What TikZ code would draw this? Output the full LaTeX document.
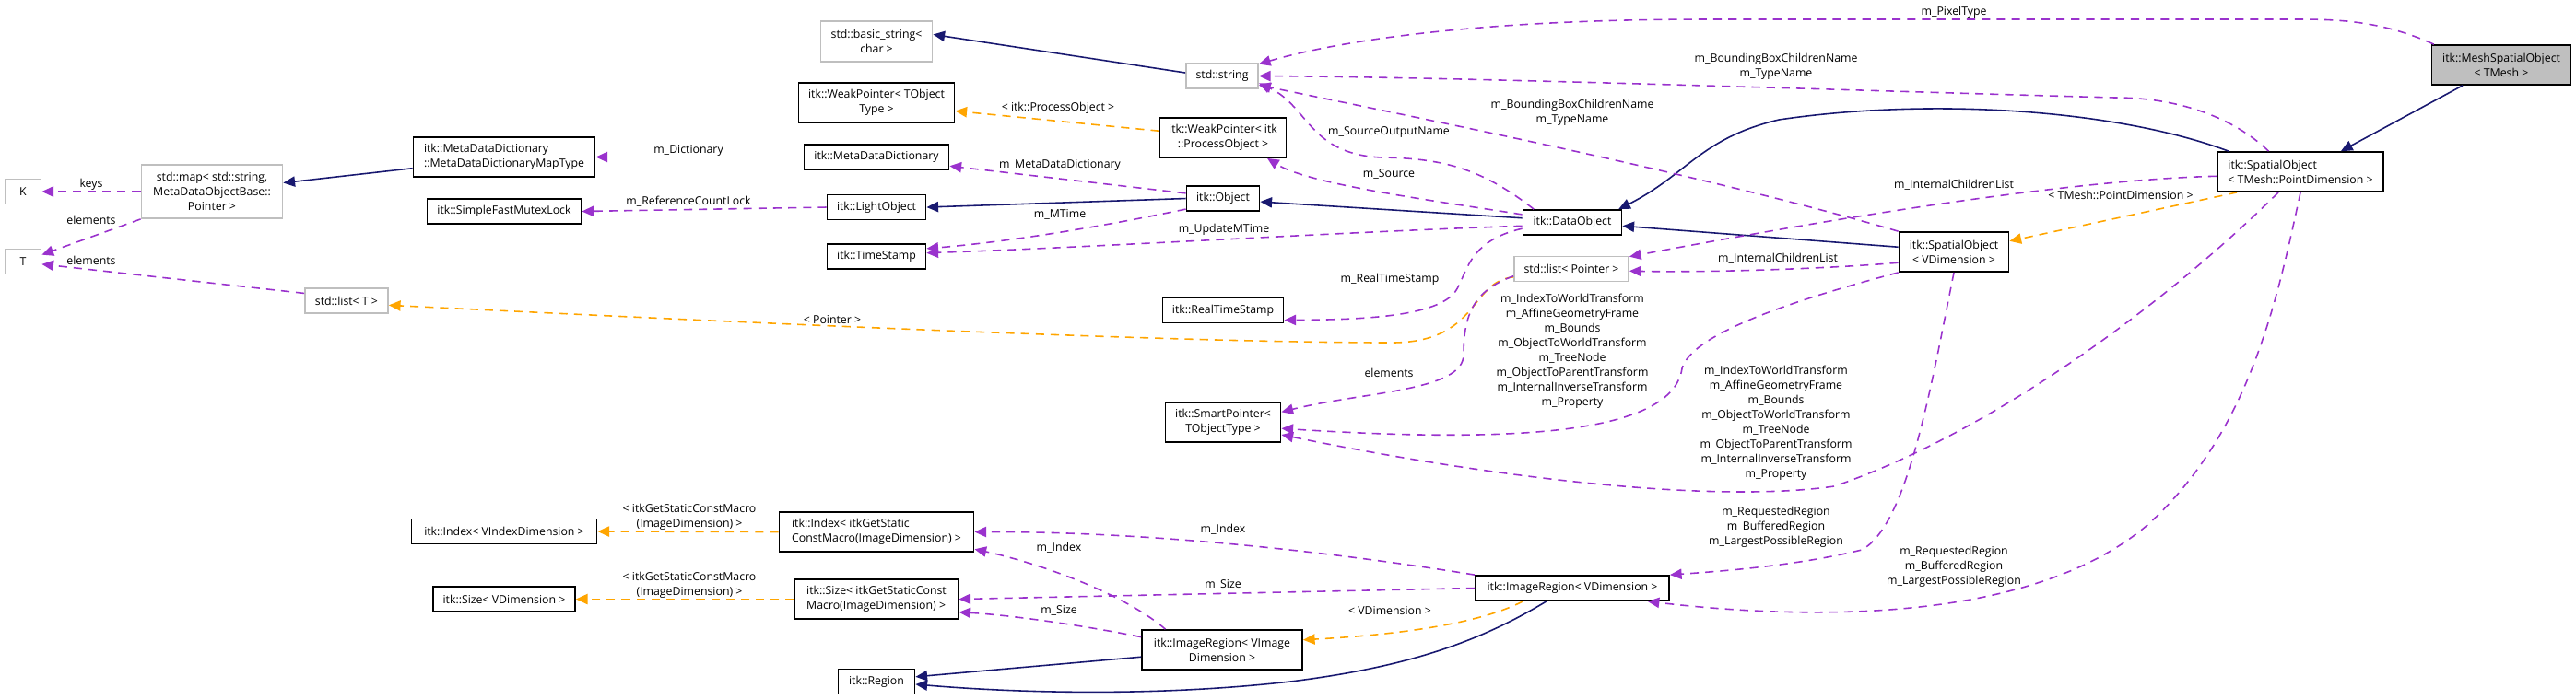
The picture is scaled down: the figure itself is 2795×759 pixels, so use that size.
\documentclass[tikz,border=0pt]{standalone}
\usepackage{fontspec}
\setmainfont{Open Sans}
\usetikzlibrary{arrows.meta}
\definecolor{doxnavy}{RGB}{25,25,112}
\definecolor{doxpurple}{RGB}{154,50,205}
\definecolor{doxorange}{RGB}{255,165,0}
\definecolor{doxgrey}{RGB}{191,191,191}

\begin{document}
\begin{tikzpicture}[x=0.01cm,y=-0.01cm,
  font=\fontsize{3.5pt}{4.55pt}\selectfont,
  cls/.style={draw=black,line width=0.5pt,fill=white,inner sep=0pt,minimum height=0.27cm,align=center},
  ext/.style={cls,draw=doxgrey},
  lbl/.style={inner sep=0pt,align=center},
  inherit/.style={doxnavy,line width=0.45pt,-{Triangle[length=3.6pt,width=3.2pt]}},
  usage/.style={doxpurple,line width=0.45pt,dash pattern=on 2.6pt off 2pt,-{Triangle[length=3.6pt,width=3.2pt]}},
  templ/.style={usage,doxorange}]
  \useasboundingbox (0,0) rectangle (2795,759);

  % classes
  \node[ext,minimum width=0.39cm] (K) at (25,208) {K};
  \node[ext,minimum width=0.39cm] (T) at (25,284) {T};
  \node[ext,minimum width=1.53cm,minimum height=0.58cm] (map) at (230,208) {std::map< std::string,\\MetaDataObjectBase::\\Pointer >};
  \node[ext,minimum width=0.90cm] (listT) at (376,326.5) {std::list< T >};
  \node[ext,minimum width=1.21cm,minimum height=0.44cm] (basicstr) at (951,45) {std::basic\_string<\\char >};
  \node[ext,minimum width=0.78cm] (stdstring) at (1326,82.5) {std::string};
  \node[ext,minimum width=1.24cm] (listptr) at (1705,292) {std::list< Pointer >};
  \node[cls,minimum width=1.97cm,minimum height=0.43cm,align=left] (maptype) at (547,170.5) {itk::MetaDataDictionary\\::MetaDataDictionaryMapType};
  \foreach \nm/\txt/\cx/\cy/\w in {
    mutex/itk::SimpleFastMutexLock/547/229.5/1.67cm,
    mdd/itk::MetaDataDictionary/951/170.5/1.57cm,
    light/itk::LightObject/951/225/1.07cm,
    stamp/itk::TimeStamp/951/278.5/1.07cm,
    object/itk::Object/1327/215.5/0.79cm,
    realstamp/itk::RealTimeStamp/1327/337/1.31cm,
    dataobj/itk::DataObject/1706/241.5/1.07cm,
    indexv/itk::Index< VIndexDimension >/547/577/2.01cm,
    sizev/itk::Size< VDimension >/547/650.5/1.54cm,
    region/itk::Region/951/740/0.83cm,
    regionv/itk::ImageRegion< VDimension >/1706/638.5/2.10cm}{
    \node[cls,minimum width=\w] (\nm) at (\cx,\cy) {\txt};
  }
  \node[cls,minimum width=1.69cm,minimum height=0.43cm] (weakt) at (951,111.5) {itk::WeakPointer< TObject\\Type >};
  \node[cls,minimum width=1.37cm,minimum height=0.43cm] (weakpo) at (1327,149.5) {itk::WeakPointer< itk\\::ProcessObject >};
  \node[cls,minimum width=1.25cm,minimum height=0.43cm] (smartptr) at (1327,458.5) {itk::SmartPointer<\\TObjectType >};
  \node[cls,minimum width=1.19cm,minimum height=0.43cm] (spvdim) at (2120,273.5) {itk::SpatialObject\\< VDimension >};
  \node[cls,minimum width=1.80cm,minimum height=0.43cm,align=left] (sptmesh) at (2496,186.5) {itk::SpatialObject\\< TMesh::PointDimension >};
  \node[cls,fill=doxgrey,minimum width=1.51cm,minimum height=0.43cm] (mesh) at (2714,70.5) {itk::MeshSpatialObject\\< TMesh >};
  \node[cls,minimum width=2.11cm,minimum height=0.43cm,align=left] (indexi) at (951,577.5) {itk::Index< itkGetStatic\\ConstMacro(ImageDimension) >};
  \node[cls,minimum width=1.77cm,minimum height=0.43cm,align=left] (sizei) at (951,650.5) {itk::Size< itkGetStaticConst\\Macro(ImageDimension) >};
  \node[cls,minimum width=1.74cm,minimum height=0.43cm] (regioni) at (1326,705.5) {itk::ImageRegion< VImage\\Dimension >};

  % inheritance
  \draw[inherit] (maptype.187) -- (map.7);
  \draw[inherit] (stdstring.175) -- (basicstr.7);
  \draw[inherit] (object.west) -- (light.east);
  \draw[inherit] (dataobj.175) -- (object.-5);
  \draw[inherit] (spvdim.175) -- (dataobj.-4);
  \draw[inherit] (sptmesh.164) .. controls (2300,120) and (2100,105) .. (1930,130) .. controls (1845,150) and (1830,190) .. (dataobj.16);
  \draw[inherit] (mesh.208) -- (sptmesh.27);
  \draw[inherit] (regioni.185) -- (region.7);
  \draw[inherit] (regionv.207) .. controls (1600,700) and (1520,725) .. (1400,740) .. controls (1250,757) and (1100,752) .. (region.-4);

  % template arguments
  \draw[templ] (listptr.188) .. controls (1595,305) and (1605,372) .. (1510,372) .. controls (1250,372) and (700,345) .. (listT.-6);
  \draw[templ] (weakpo.174) -- (weakt.-6);
  \draw[templ] (sptmesh.198) -- (spvdim.11);
  \draw[templ] (regionv.195) .. controls (1600,680) and (1500,690) .. (regioni.7);
  \draw[templ] (indexi.west) -- (indexv.east);
  \draw[templ] (sizei.west) -- (sizev.east);

  % members
  \draw[usage] (map.west) -- (K.east);
  \draw[usage] (map.south west) -- (T.20);
  \draw[usage] (listT.170) -- (T.-8);
  \draw[usage] (mdd.west) -- (maptype.east);
  \draw[usage] (light.west) -- (mutex.east);
  \draw[usage] (object.172) -- (mdd.-7);
  \draw[usage] (object.196) .. controls (1200,245) and (1100,262) .. (stamp.9);
  \draw[usage] (dataobj.184) .. controls (1450,252) and (1200,268) .. (stamp.4);
  \draw[usage] (dataobj.171) .. controls (1550,217) and (1420,200) .. (weakpo.-25);
  \draw[usage] (dataobj.161) .. controls (1610,185) and (1570,172) .. (1500,171) .. controls (1420,168) and (1420,115) .. (stdstring.-11);
  \draw[usage] (spvdim.north west) .. controls (1850,190) and (1550,130) .. (stdstring.-14);
  \draw[usage] (sptmesh.147) .. controls (2420,125) and (2360,106) .. (2295,106) .. controls (2000,98) and (1600,84) .. (stdstring.east);
  \draw[usage] (mesh.163) .. controls (2590,25) and (2545,21) .. (2498,21) -- (1850,21) .. controls (1600,21) and (1450,45) .. (stdstring.18);
  \draw[usage] (sptmesh.183) .. controls (2250,195) and (2000,235) .. (listptr.12);
  \draw[usage] (spvdim.191) .. controls (1980,292) and (1850,296) .. (listptr.-2);
  \draw[usage] (dataobj.187) .. controls (1590,262) and (1592,300) .. (1578,318) .. controls (1555,345) and (1470,347) .. (realstamp.-9);
  \draw[usage] (listptr.187) .. controls (1600,315) and (1588,340) .. (1588,385) .. controls (1588,425) and (1480,425) .. (smartptr.10);
  \draw[usage] (spvdim.south west) .. controls (1930,330) and (1835,365) .. (1825,400) .. controls (1815,470) and (1650,482) .. (smartptr.-6);
  \draw[usage] (sptmesh.223) .. controls (2350,330) and (2160,470) .. (1990,528) .. controls (1850,548) and (1600,515) .. (smartptr.-12);
  \draw[usage] (regionv.north west) .. controls (1450,600) and (1250,577) .. (indexi.east);
  \draw[usage] (regioni.160) .. controls (1220,645) and (1130,612) .. (indexi.-10);
  \draw[usage] (regionv.west) -- (sizei.east);
  \draw[usage] (regioni.171) .. controls (1180,680) and (1100,668) .. (sizei.-9);
  \draw[usage] (spvdim.south) .. controls (2095,420) and (2070,570) .. (2020,597) .. controls (1950,614) and (1870,620) .. (regionv.north east);
  \draw[usage] (sptmesh.south) .. controls (2470,330) and (2440,470) .. (2330,570) .. controls (2200,680) and (1950,672) .. (regionv.-10);

  % edge labels
  \node[lbl] (lkeys) at (99,200) {keys};
  \node[lbl] (lelem1) at (99,239) {elements};
  \node[lbl] (lelem2) at (99,283) {elements};
  \node[lbl] (ldict) at (747,163) {m\_Dictionary};
  \node[lbl] (lrefcnt) at (747,219) {m\_ReferenceCountLock};
  \node[lbl] (lptr) at (903,347) {< Pointer >};
  \node[lbl] (lproc) at (1148,117) {< itk::ProcessObject >};
  \node[lbl] (lmdd) at (1150,179) {m\_MetaDataDictionary};
  \node[lbl] (lmtime) at (1150,233) {m\_MTime};
  \node[lbl] (lupd) at (1328,249) {m\_UpdateMTime};
  \node[lbl] (lsrc) at (1507,189) {m\_Source};
  \node[lbl] (lsrcname) at (1507,143) {m\_SourceOutputName};
  \node[lbl] (lbbox1) at (1706,122.5) {m\_BoundingBoxChildrenName\\m\_TypeName};
  \node[lbl] (lbbox2) at (1927,72.5) {m\_BoundingBoxChildrenName\\m\_TypeName};
  \node[lbl] (lpix) at (2120,13) {m\_PixelType};
  \node[lbl] (lpointdim) at (2301,212) {< TMesh::PointDimension >};
  \node[lbl] (lchild1) at (2120,201) {m\_InternalChildrenList};
  \node[lbl] (lchild2) at (1929,281) {m\_InternalChildrenList};
  \node[lbl] (lreal) at (1508,303) {m\_RealTimeStamp};
  \node[lbl] (lelem3) at (1507,405) {elements};
  \node[lbl] (ltrans1) at (1706,381) {m\_IndexToWorldTransform\\m\_AffineGeometryFrame\\m\_Bounds\\m\_ObjectToWorldTransform\\m\_TreeNode\\m\_ObjectToParentTransform\\m\_InternalInverseTransform\\m\_Property};
  \node[lbl] (ltrans2) at (1927,459) {m\_IndexToWorldTransform\\m\_AffineGeometryFrame\\m\_Bounds\\m\_ObjectToWorldTransform\\m\_TreeNode\\m\_ObjectToParentTransform\\m\_InternalInverseTransform\\m\_Property};
  \node[lbl] (lmacro1) at (748,561) {< itkGetStaticConstMacro\\(ImageDimension) >};
  \node[lbl] (lmacro2) at (748,635) {< itkGetStaticConstMacro\\(ImageDimension) >};
  \node[lbl] (lidx1) at (1327,575) {m\_Index};
  \node[lbl] (lidx2) at (1149,595) {m\_Index};
  \node[lbl] (lsize1) at (1327,635) {m\_Size};
  \node[lbl] (lsize2) at (1149,663) {m\_Size};
  \node[lbl] (lvdim) at (1508,663) {< VDimension >};
  \node[lbl] (lreg1) at (1927,572) {m\_RequestedRegion\\m\_BufferedRegion\\m\_LargestPossibleRegion};
  \node[lbl] (lreg2) at (2120,615) {m\_RequestedRegion\\m\_BufferedRegion\\m\_LargestPossibleRegion};
\end{tikzpicture}
\end{document}
